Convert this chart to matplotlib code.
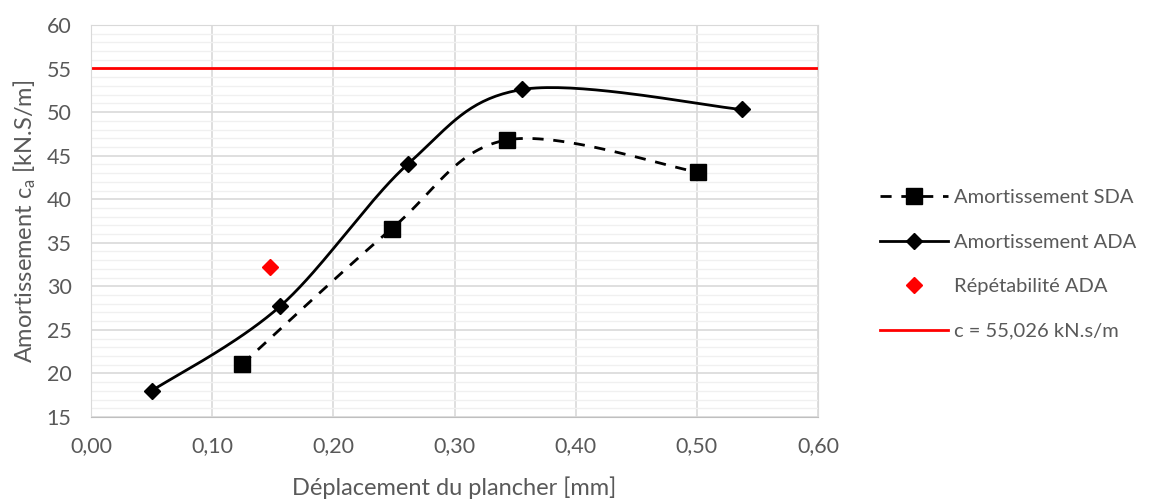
import numpy as np
import matplotlib.pyplot as plt
from matplotlib.ticker import MultipleLocator, FuncFormatter

plt.rcParams['font.family'] = ['Lato', 'DejaVu Sans']
plt.rcParams['mathtext.default'] = 'regular'

# données
sda_x = [0.125, 0.248, 0.343, 0.501]
sda_y = [21.1, 36.6, 46.8, 43.1]
ada_x = [0.050, 0.156, 0.262, 0.356, 0.537]
ada_y = [18.0, 27.7, 44.1, 52.6, 50.3]
rep_x = [0.148]
rep_y = [32.2]
c_ref = 55.026


def smooth(xs, ys, n=40):
    # lissage type Excel (Catmull-Rom -> Bezier)
    p = np.column_stack([xs, ys])
    pts = []
    for i in range(len(p) - 1):
        p0 = p[i - 1] if i > 0 else p[i]
        p3 = p[i + 2] if i + 2 < len(p) else p[i + 1]
        p1, p2 = p[i], p[i + 1]
        c1 = p1 + (p2 - p0) / 6
        c2 = p2 - (p3 - p1) / 6
        t = np.linspace(0, 1, n)[:, None]
        seg = ((1 - t) ** 3 * p1 + 3 * (1 - t) ** 2 * t * c1
               + 3 * (1 - t) * t ** 2 * c2 + t ** 3 * p2)
        pts.append(seg if i == 0 else seg[1:])
    pts = np.vstack(pts)
    return pts[:, 0], pts[:, 1]


grey = '#595959'
fig = plt.figure(figsize=(11.56, 5.0), dpi=100)
ax = fig.add_axes([0.0787, 0.166, 0.629, 0.784])

sx, sy = smooth(sda_x, sda_y)
ax.plot(sx, sy, color='black', lw=2, ls=(0, (4, 3.5)), zorder=3)
ax.plot(sda_x, sda_y, ls='none', marker='s', ms=11, color='black', zorder=4)
ax.plot([], [], color='black', lw=2, ls=(0, (4, 3.5)), marker='s', ms=11,
        label='Amortissement SDA')

ax_x, ax_y = smooth(ada_x, ada_y)
ax.plot(ax_x, ax_y, color='black', lw=2, zorder=3)
ax.plot(ada_x, ada_y, ls='none', marker='D', ms=8.5, color='black', zorder=4)
ax.plot([], [], color='black', lw=2, marker='D', ms=8.5,
        label='Amortissement ADA')

ax.plot(rep_x, rep_y, ls='none', marker='D', ms=8.5, color='#ff0000',
        zorder=4, label='Répétabilité ADA')
ax.axhline(c_ref, color='#ff0000', lw=2, zorder=2,
           label='c = 55,026 kN.s/m')

ax.set_xlim(0, 0.6)
ax.set_ylim(15, 60)
ax.xaxis.set_major_locator(MultipleLocator(0.1))
ax.yaxis.set_major_locator(MultipleLocator(5))
ax.yaxis.set_minor_locator(MultipleLocator(1))
ax.xaxis.set_major_formatter(FuncFormatter(lambda v, p: f'{v:.2f}'.replace('.', ',')))
ax.grid(which='major', color='#d9d9d9', lw=1.2, zorder=0)
ax.grid(which='minor', axis='y', color='#f0f0f0', lw=1.0, zorder=0)
ax.set_axisbelow(True)
for s in ['top', 'right', 'left']:
    ax.spines[s].set_color('#d9d9d9')
ax.spines['bottom'].set_color('#bfbfbf')
ax.tick_params(which='both', length=0, labelsize=15.5, colors=grey)
ax.tick_params(axis='x', pad=14)
ax.tick_params(axis='y', pad=14)

ax.set_xlabel('Déplacement du plancher [mm]', fontsize=17, color=grey, labelpad=14)
ax.set_ylabel('Amortissement c$_a$ [kN.S/m]', fontsize=17, color=grey, labelpad=6)

leg = ax.legend(loc='center left', bbox_to_anchor=(1.0853, 0.389), frameon=False,
                fontsize=14.5, labelspacing=1.36, handlelength=3.38, handletextpad=0.3,
                borderpad=0, borderaxespad=0)
for t in leg.get_texts():
    t.set_color(grey)

fig.savefig('out.png', dpi=100)
